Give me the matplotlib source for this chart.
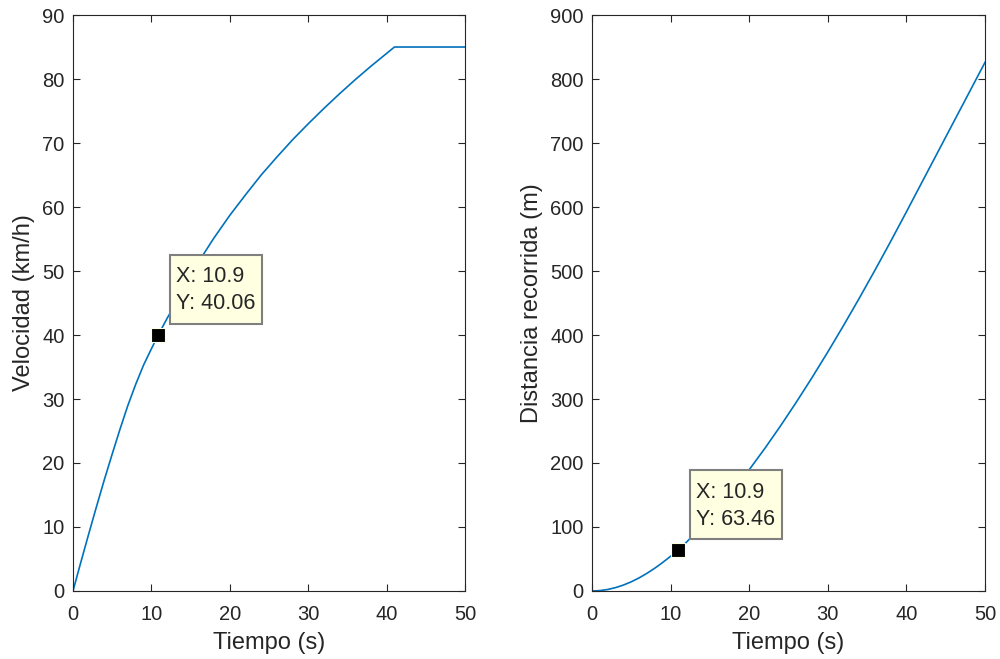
import matplotlib
matplotlib.use('Agg')
import matplotlib.pyplot as plt
from matplotlib.patches import Rectangle
from matplotlib.transforms import IdentityTransform, ScaledTranslation

plt.rcParams['font.family'] = ['Liberation Sans', 'DejaVu Sans']

# tiempo (s) y valores
tiempo = [0, 1, 2, 3, 4, 5, 6, 7, 8, 9, 10, 10.9, 12, 14, 16, 18, 20, 22, 24,
          26, 28, 30, 32, 34, 36, 38, 40, 41, 50]
velocidad = [0, 4.5, 8.9, 13.2, 17.4, 21.4, 25.3, 29.0, 32.3, 35.3, 37.85, 40.06,
             42.6, 46.9, 51.4, 55.2, 58.7, 61.9, 65.0, 67.8, 70.5, 73.0, 75.4,
             77.7, 79.9, 82.0, 84.0, 85, 85]
distancia = [0, 0.6, 2.36, 5.26, 9.28, 14.38, 20.52, 27.65, 35.72, 44.63, 54.26,
             63.46, 76.09, 100.95, 128.26, 157.87, 189.51, 223.01, 258.26,
             295.15, 333.57, 373.46, 414.77, 457.41, 501.27, 546.27, 592.38,
             615.85, 826]

# data tips
tip_x = 10.9
tip_vel = 40.06
tip_dist = 63.46

azul = '#0072BD'
gris = '#262626'

fig = plt.figure(figsize=(10, 6.59), dpi=100)
ax1 = fig.add_axes([0.073, 0.1032, 0.392, 0.874])
ax2 = fig.add_axes([0.592, 0.1032, 0.393, 0.874])


def estilo(ax, ymax, ystep, ylabel):
    ax.set_xlim(0, 50)
    ax.set_ylim(0, ymax)
    ax.set_xticks(range(0, 51, 10))
    ax.set_yticks(range(0, ymax + 1, ystep))
    ax.tick_params(direction='in', top=True, right=True, length=5, width=0.8,
                   colors=gris, labelsize=14.5)
    ax.tick_params(axis='x', pad=10)
    ax.tick_params(axis='y', pad=6)
    for s in ax.spines.values():
        s.set_color(gris)
        s.set_linewidth(0.8)
    ax.set_xlabel('Tiempo (s)', fontsize=17, color=gris, labelpad=6)
    ax.set_ylabel(ylabel, fontsize=17, color=gris, labelpad=5)


def datatip(ax, x, y):
    ax.plot([x], [y], marker='s', ms=10, mfc='black', mec='#FFFFE1', mew=0.8,
            zorder=5)
    # box placed in pixel offsets from the data point, like MATLAB's datatip
    tr = IdentityTransform() + ScaledTranslation(x, y, ax.transData)
    ax.add_patch(Rectangle((12, 11), 92, 69, transform=tr, fc='#FFFFE1',
                           ec='#7F7F7F', lw=1.5, clip_on=False, zorder=6))
    ax.text(18, 58, f'X: {x:g}', transform=tr, ha='left', va='center',
            fontsize=15.5, color=gris, zorder=7)
    ax.text(18, 31, f'Y: {y:.2f}', transform=tr, ha='left', va='center',
            fontsize=15.5, color=gris, zorder=7)


ax1.plot(tiempo, velocidad, color=azul, lw=1.2)
estilo(ax1, 90, 10, 'Velocidad (km/h)')
datatip(ax1, tip_x, tip_vel)

ax2.plot(tiempo, distancia, color=azul, lw=1.2)
estilo(ax2, 900, 100, 'Distancia recorrida (m)')
datatip(ax2, tip_x, tip_dist)

fig.savefig('out.png', dpi=100)
